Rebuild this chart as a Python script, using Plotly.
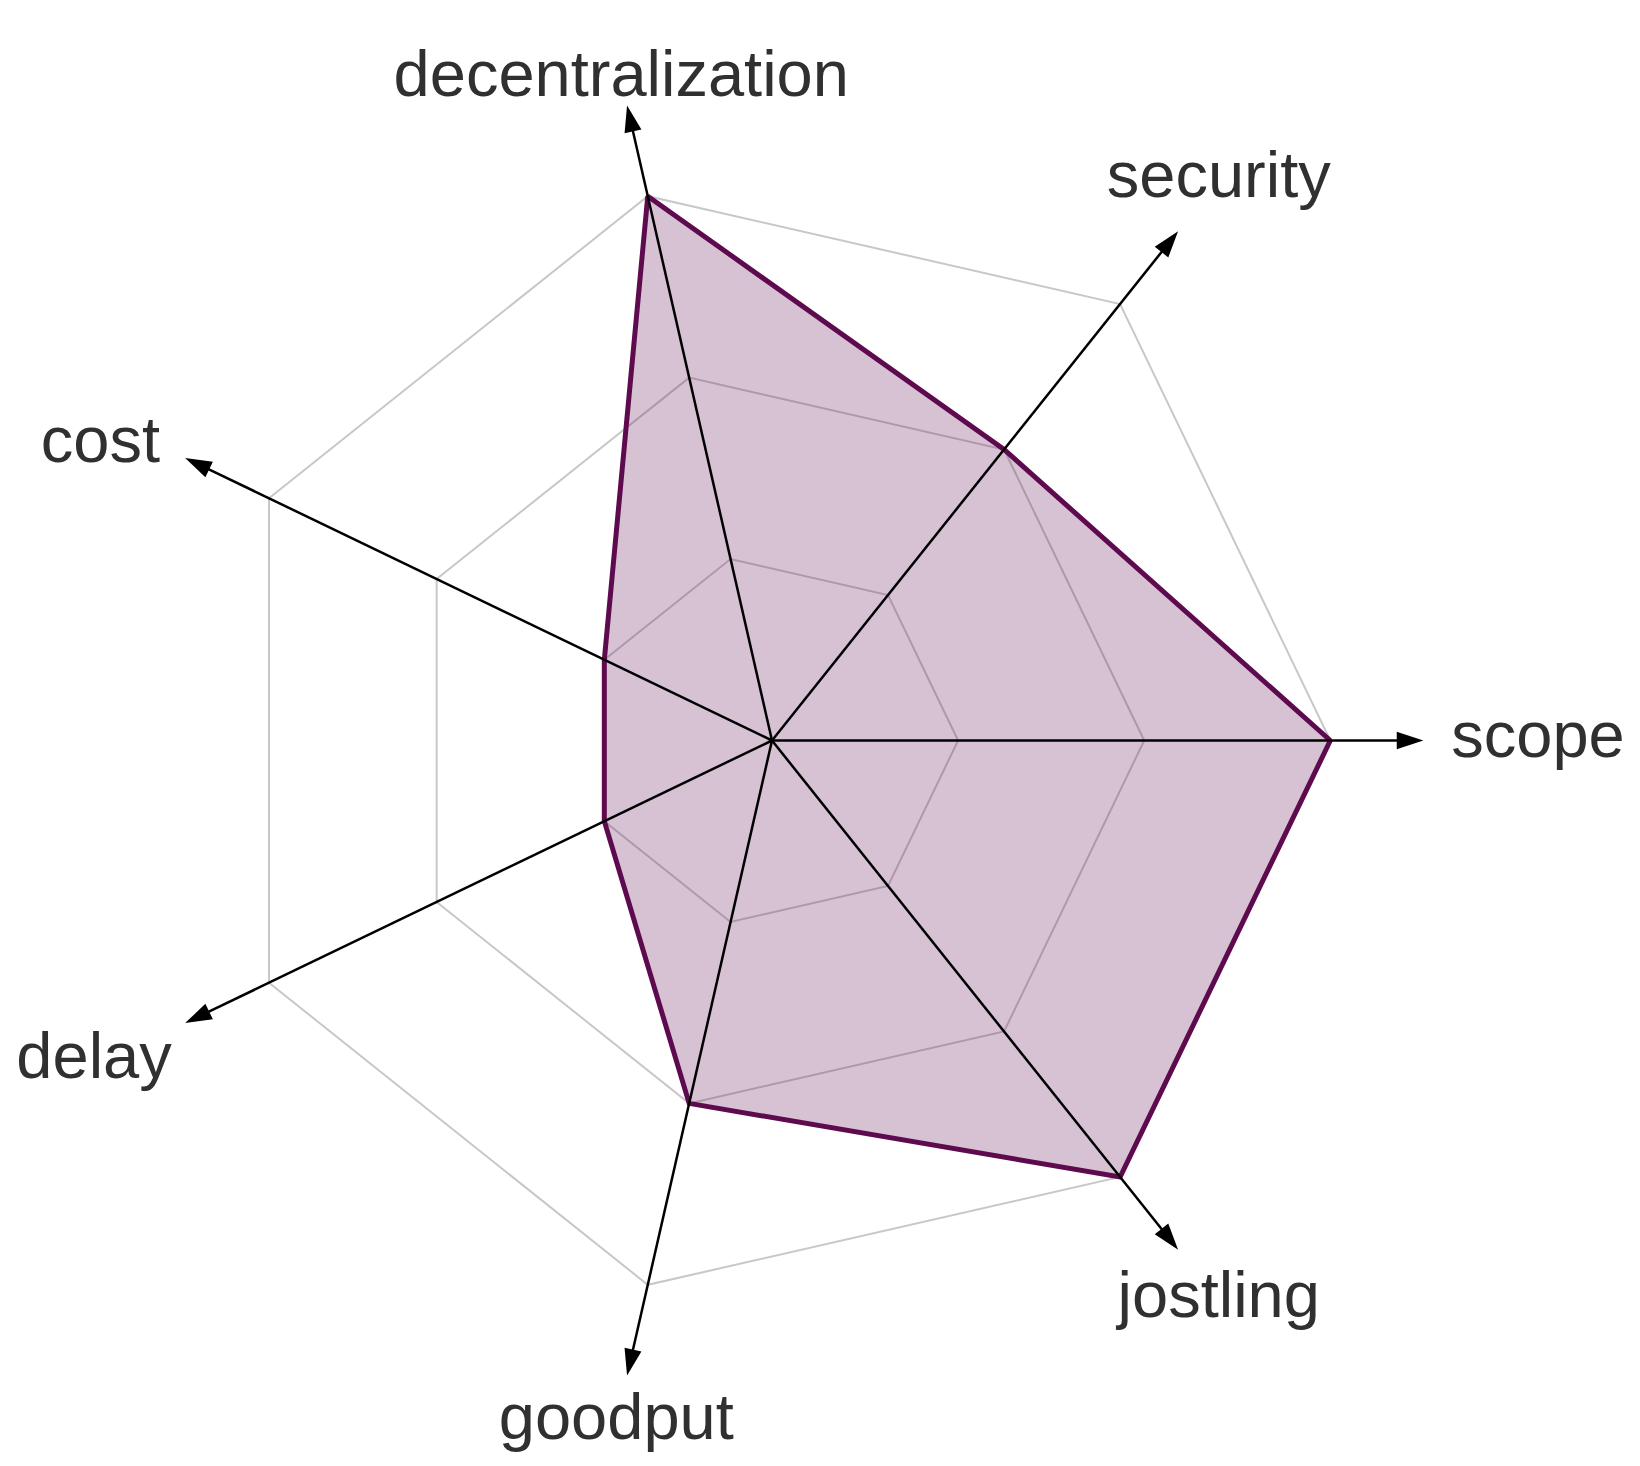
import plotly.graph_objects as go

# ---- data ----
categories = ["scope", "security", "decentralization", "cost", "delay", "goodput", "jostling"]
values = [3, 2, 3, 1, 1, 2, 3]
grid_levels = [1, 2, 3]
arrow_len = 3.5
range_max = 3.85

# ---- label placement (style) ----
label_r = [3.65, 3.85, 3.64, 3.65, 3.58, 3.76, 3.85]
label_positions = ["middle right", "middle center", "middle center", "middle left",
                   "bottom left", "middle center", "middle center"]

# ---- styles ----
LINE_COLOR = "#5e0a4e"
FILL_COLOR = "rgba(94,10,78,0.25)"
GRID_COLOR = "#c8c8c8"
TEXT_COLOR = "#303030"

fig = go.Figure()

# data polygon
fig.add_trace(go.Scatterpolar(
    r=values + values[:1], theta=categories + categories[:1],
    mode="lines", fill="toself", fillcolor=FILL_COLOR,
    line=dict(color=LINE_COLOR, width=5), hoverinfo="skip", showlegend=False,
))

# axis spokes with arrowheads
for cat in categories:
    fig.add_trace(go.Scatterpolar(
        r=[0, arrow_len], theta=[cat, cat], mode="lines+markers",
        line=dict(color="black", width=2.5),
        marker=dict(symbol="arrow", angleref="previous", size=[0, 28], color="black",
                    opacity=1, line=dict(width=0, color="black")),
        hoverinfo="skip", showlegend=False, cliponaxis=False,
    ))

# axis labels
fig.add_trace(go.Scatterpolar(
    r=label_r, theta=categories, mode="text",
    text=categories, textposition=label_positions,
    textfont=dict(family="Liberation Sans, Arial, sans-serif", size=65, color=TEXT_COLOR),
    hoverinfo="skip", showlegend=False, cliponaxis=False,
))

W, H = 1640, 1466
cx, cy = 764, 732.5
scale = 558.5 / 3
rad = range_max * scale
fig.update_layout(
    width=W, height=H,
    margin=dict(l=cx - rad, r=W - (cx + rad), t=cy - rad, b=H - (cy + rad)),
    paper_bgcolor="white", plot_bgcolor="white",
    polar=dict(
        domain=dict(x=[0, 1], y=[0, 1]),
        bgcolor="rgba(0,0,0,0)",
        gridshape="linear",
        radialaxis=dict(range=[0, range_max], tickvals=grid_levels, showticklabels=False,
                        ticks="", showline=False, gridcolor=GRID_COLOR, gridwidth=1.8),
        angularaxis=dict(type="category", categoryarray=categories, rotation=0,
                         direction="counterclockwise", showgrid=False, showline=False,
                         showticklabels=False, ticks=""),
    ),
)
fig.write_html("out.html")
